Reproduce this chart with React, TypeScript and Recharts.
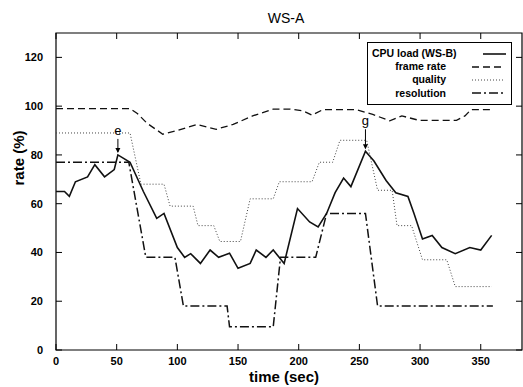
import React from 'react';
import { LineChart, Line, XAxis, YAxis, ReferenceArea, ReferenceDot, Legend } from 'recharts';

// time (sec) / rate (%)
const cpuTime = [0, 7, 11, 16, 26, 32, 40, 48, 51, 61, 72, 83, 89, 100, 106, 111, 119, 127, 134, 143, 150, 160, 165, 173, 179, 188, 199, 209, 216, 223, 230, 237, 243, 255, 262, 272, 280, 290, 295, 302, 310, 318, 329, 341, 350, 359];
const cpuLoad = [65, 65, 63, 69, 71, 76, 71, 74, 80, 77, 65, 54, 56, 42, 38, 39.5, 35.5, 41, 38, 39.7, 33.5, 35.5, 41, 38, 41, 35.5, 58, 52.5, 50.5, 56, 64.5, 70.5, 67, 81.5, 77.5, 69.5, 64.5, 63, 56, 45.5, 47, 42, 39.5, 42, 41, 47];

const frameTime = [0, 61, 67, 75, 88, 100, 116, 132, 146, 162, 179, 193, 204, 211, 220, 247, 261, 275, 285, 299, 330, 337, 342, 359];
const frameRate = [99, 99, 97, 93, 88.5, 90, 92.5, 90.5, 92.5, 96, 98.8, 98.8, 98, 96.3, 98.6, 98.6, 96.6, 94, 96, 94.2, 94.2, 96, 98.6, 98.6];

const qualityTime = [0, 61, 70, 89, 94, 113, 117, 130, 135, 152, 160, 179, 184, 211, 217, 228, 234, 256, 265, 277, 281, 293, 302, 322, 329, 359];
const quality = [89, 89, 68, 68, 59, 59, 51, 51, 44.5, 44.5, 62, 62, 69, 69, 77, 77, 86, 86, 65.5, 65.5, 51, 51, 37, 37, 26, 26];

const resTime = [0, 60, 74, 98, 105, 141, 143, 179, 185, 214, 223, 255, 265, 360];
const resolution = [77, 77, 38, 38, 18, 18, 9.5, 9.5, 38, 38, 56, 56, 18, 18];

const xTicks = [0, 50, 100, 150, 200, 250, 300, 350];
const yTicks = [0, 20, 40, 60, 80, 100, 120];

const markTime = [51, 255];
const markValue = [80, 81.5];
const markLabel = ['e', 'g'];

const pts = (t: number[], v: number[]) => t.map((x, i) => ({ t: x, v: v[i] }));

const series = [
  { name: 'CPU load (WS-B)', data: pts(cpuTime, cpuLoad), dash: undefined, width: 1.6, color: '#111' },
  { name: 'frame rate', data: pts(frameTime, frameRate), dash: '7 4', width: 1.3, color: '#111' },
  { name: 'quality', data: pts(qualityTime, quality), dash: '1 2', width: 1, color: '#444' },
  { name: 'resolution', data: pts(resTime, resolution), dash: '9 3 2 3', width: 1.5, color: '#111' },
];

const FONT = '"Liberation Sans", Arial, sans-serif';
const PLOT = { left: 56, right: 522, top: 33, bottom: 350 };

const YTick = ({ y, payload }: any) => (
  <g>
    <line x1={PLOT.left} x2={PLOT.left + 6} y1={y} y2={y} stroke="#000" />
    <line x1={PLOT.right - 6} x2={PLOT.right} y1={y} y2={y} stroke="#000" />
    <text x={43} y={y + 4} textAnchor="end" fontSize={11} fontWeight="bold" fontFamily={FONT} fill="#000">
      {payload.value}
    </text>
  </g>
);

const XTick = ({ x, payload }: any) => (
  <g>
    <line x1={x} x2={x} y1={PLOT.bottom} y2={PLOT.bottom - 6} stroke="#000" />
    <line x1={x} x2={x} y1={PLOT.top} y2={PLOT.top + 6} stroke="#000" />
    <text x={x} y={PLOT.bottom + 15} textAnchor="middle" fontSize={11} fontWeight="bold" fontFamily={FONT} fill="#000">
      {payload.value}
    </text>
  </g>
);

const renderLegend = () => (
  <div style={{ border: '1px solid #000', background: '#fff', padding: '4px 5px 4px 4px', fontFamily: FONT, fontSize: 10.5, fontWeight: 'bold', lineHeight: '13.2px', whiteSpace: 'nowrap', boxSizing: 'border-box', width: 145 }}>
    {series.map((s) => (
      <div key={s.name} style={{ display: 'flex', justifyContent: 'flex-end', alignItems: 'center', height: 13.2 }}>
        <span>{s.name}</span>
        <svg width={36} height={10} style={{ marginLeft: 24 }}>
          <line x1={2} x2={34} y1={5} y2={5} stroke={s.color} strokeWidth={s.width} strokeDasharray={s.dash} />
        </svg>
      </div>
    ))}
  </div>
);

const Marker = (label: string, rise: number) => (props: any) => {
  const { cx, cy } = props;
  return (
    <g>
      <line x1={cx} x2={cx} y1={cy - rise + 8} y2={cy - 3} stroke="#000" strokeWidth={1} />
      <path d={`M${cx - 2.5},${cy - 7} L${cx + 2.5},${cy - 7} L${cx},${cy - 2} Z`} fill="#000" />
      <text x={cx} y={cy - rise + 4} textAnchor="middle" fontSize={13} fontFamily={FONT} fill="#000">
        {label}
      </text>
    </g>
  );
};

export default function App() {
  return (
    <div style={{ position: 'absolute', left: 0, top: 0, width: 523, height: 387, background: '#fff' }}>
      <LineChart width={523} height={387} margin={{ top: PLOT.top, right: 1, bottom: 0, left: 0 }}>
        <XAxis type="number" dataKey="t" domain={[0, 384]} ticks={xTicks} axisLine={false} tickLine={false} tick={<XTick />} height={37} allowDuplicatedCategory={false} />
        <YAxis type="number" domain={[0, 130]} ticks={yTicks} axisLine={false} tickLine={false} tick={<YTick />} width={PLOT.left} />
        <ReferenceArea x1={0} x2={384} y1={0} y2={130} fill="none" stroke="#000" strokeWidth={1.2} ifOverflow="visible" />
        {series.map((s) => (
          <Line
            key={s.name}
            data={s.data}
            dataKey="v"
            name={s.name}
            type="linear"
            stroke={s.color}
            strokeWidth={s.width}
            strokeDasharray={s.dash}
            dot={false}
            activeDot={false}
            isAnimationActive={false}
          />
        ))}
        {markTime.map((t, i) => (
          <ReferenceDot key={markLabel[i]} x={t} y={markValue[i]} r={0} ifOverflow="visible" shape={Marker(markLabel[i], i === 0 ? 24 : 30)} />
        ))}
        <Legend layout="vertical" align="center" verticalAlign="middle" content={renderLegend} wrapperStyle={{ position: 'absolute', left: 367, top: 42, width: 145 }} />
        <text x={286} y={23} textAnchor="middle" fontSize={14} fontFamily={FONT} fill="#000">WS-A</text>
        <text x={284} y={382} textAnchor="middle" fontSize={15} fontWeight="bold" fontFamily={FONT} fill="#000">time (sec)</text>
        <text x={24} y={158} textAnchor="middle" fontSize={15} fontWeight="bold" fontFamily={FONT} fill="#000" transform="rotate(-90 24 158)">rate (%)</text>
      </LineChart>
    </div>
  );
}
